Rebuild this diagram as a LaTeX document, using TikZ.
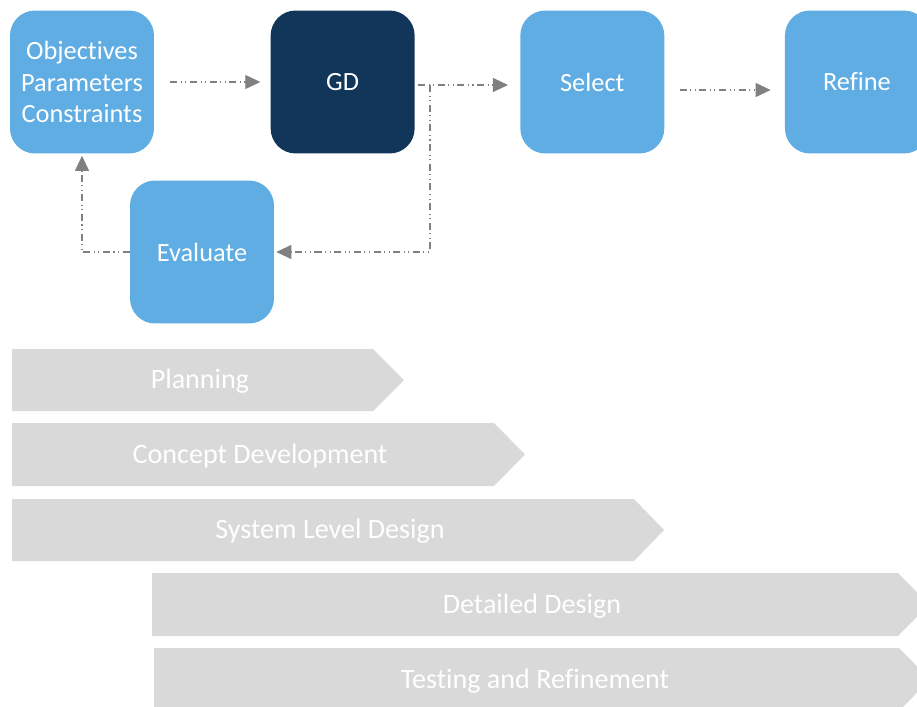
\documentclass[tikz,border=0pt]{standalone}
\usepackage{fontspec}
\setmainfont{Carlito}[Ligatures=CommonOff]
\usepackage{xcolor}
\usepackage{tikz}
\usetikzlibrary{arrows.meta,positioning,calc}

\definecolor{boxblue}{HTML}{5FADE3}
\definecolor{gdnavy}{HTML}{12365A}
\definecolor{phasegray}{HTML}{D9D9D9}
\definecolor{linegray}{HTML}{808080}

\begin{document}
\begin{tikzpicture}[
  x=0.02cm, y=-0.02cm,
  node distance=2.3cm,
  box/.style={rectangle, rounded corners=0.5cm, fill=boxblue, text=white, minimum width=2.88cm, minimum height=2.86cm, align=center, font=\fontsize{15}{17.9}\selectfont},
  gdbox/.style={box, fill=gdnavy},
  flow/.style={draw=linegray, line width=0.6pt, dash pattern=on 4pt off 2pt on 0.6pt off 2pt on 0.6pt off 2pt, -{Triangle[length=0.3cm,width=0.28cm]}},
  phase/.style={fill=phasegray},
  phasetxt/.style={text=white, font=\fontsize{16}{19}\selectfont}
]
\useasboundingbox (0,0) rectangle (917,707);
\clip (0,0) rectangle (917,707);

% design loop
\node[box] (obj) at (82,82) {Objectives\\Parameters\\Constraints};
\node[gdbox, right=2.32cm of obj] (gd) {GD};
\node[box, right=2.1cm of gd] (sel) {Select};
\node[box, right=2.4cm of sel] (ref) {Refine};
\node[box] (eval) at (202,252) {Evaluate};

\draw[flow, shorten <=0.32cm, shorten >=0.2cm] (obj) -- (gd);
\draw[flow, shorten <=0.06cm, shorten >=0.24cm] ([yshift=-0.06cm]gd.east) -- ([yshift=-0.06cm]sel.west);
\coordinate (split) at ([xshift=0.3cm,yshift=-0.06cm]gd.east);
\draw[flow, shorten >=0.04cm] (split) |- (eval.east);
\draw[flow, shorten <=0.3cm, shorten >=0.28cm] ([yshift=-0.16cm]sel.east) -- ([yshift=-0.16cm]ref.west);
\draw[flow, shorten >=0.04cm] (eval.west) -| (obj.south);

% phases
\fill[phase] (12,349) -- (373,349) -- (404,380) -- (373,411) -- (12,411) -- cycle;
\node[phasetxt] (plan) at (200,381) {Planning};

\fill[phase] (12,423) -- (494,423) -- (525,454.5) -- (494,486) -- (12,486) -- cycle;
\node[phasetxt] (concept) at (260,456) {Concept Development};

\fill[phase] (12,499) -- (634,499) -- (664,530) -- (634,561) -- (12,561) -- cycle;
\node[phasetxt] (system) at (330,531) {System Level Design};

\fill[phase] (152,573) -- (898,573) -- (929,604.5) -- (898,636) -- (152,636) -- cycle;
\node[phasetxt] (detail) at (532,606) {Detailed Design};

\fill[phase] (154,648) -- (899,648) -- (930,679.5) -- (899,711) -- (154,711) -- cycle;
\node[phasetxt] (test) at (535,681) {Testing and Refinement};

\end{tikzpicture}
\end{document}
